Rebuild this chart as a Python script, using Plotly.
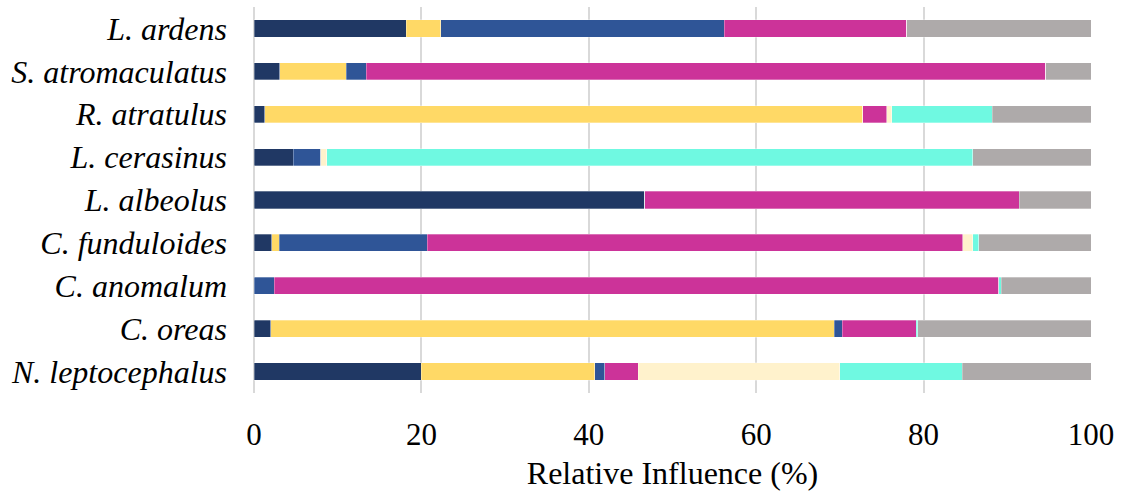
import plotly.graph_objects as go

species = ["L. ardens", "S. atromaculatus", "R. atratulus", "L. cerasinus", "L. albeolus",
           "C. funduloides", "C. anomalum", "C. oreas", "N. leptocephalus"]

navy    = [18.2, 3.1,  1.3,  4.7,  46.7, 2.1,  0.0,  2.0,  20.0]
yellow  = [4.1,  7.9,  71.4, 0.0,  0.0,  0.9,  0.0,  67.3, 20.7]
blue    = [33.9, 2.4,  0.0,  3.3,  0.0,  17.7, 2.4,  1.0,  1.2]
magenta = [21.8, 81.2, 2.9,  0.0,  44.7, 64.0, 86.6, 8.8,  4.0]
cream   = [0.0,  0.0,  0.6,  0.7,  0.0,  1.2,  0.0,  0.0,  24.1]
aqua    = [0.0,  0.0,  12.0, 77.2, 0.0,  0.7,  0.3,  0.2,  14.6]
gray    = [22.0, 5.4,  11.8, 14.1, 8.6,  13.4, 10.7, 20.7, 15.4]

x_ticks = [0, 20, 40, 60, 80, 100]

series = [
    ("Series 1", navy, "#203864"),
    ("Series 2", yellow, "#ffd966"),
    ("Series 3", blue, "#2f5597"),
    ("Series 4", magenta, "#cc3399"),
    ("Series 5", cream, "#fff2cc"),
    ("Series 6", aqua, "#6ff9e1"),
    ("Series 7", gray, "#aeaaaa"),
]

fig = go.Figure()
for name, vals, col in series:
    fig.add_trace(go.Bar(
        y=species, x=vals, name=name, orientation="h",
        marker=dict(color=col, line=dict(color="rgba(255,255,255,0.5)", width=0.6)),
        showlegend=False,
    ))

font_family = "Liberation Serif"

fig.update_layout(
    barmode="stack",
    bargap=0.6,
    width=1122, height=496,
    margin=dict(l=254, r=31, t=7, b=103, autoexpand=False),
    paper_bgcolor="white", plot_bgcolor="white",
    font=dict(family=font_family, color="black"),
    xaxis=dict(
        range=[0, 100], tickvals=x_ticks, ticktext=[str(t) for t in x_ticks],
        showgrid=True, gridcolor="#d9d9d9", gridwidth=2,
        zeroline=True, zerolinecolor="#d9d9d9", zerolinewidth=2,
        showline=False, ticks="", ticklabelstandoff=20,
        tickfont=dict(size=31, family=font_family),
        title=dict(text="Relative Influence (%)", font=dict(size=32, family=font_family), standoff=10),
    ),
    yaxis=dict(
        categoryorder="array", categoryarray=species, autorange="reversed",
        showgrid=False, showline=False, ticks="", ticklabelstandoff=26,
        tickfont=dict(size=32, family=font_family, style="italic"),
    ),
)

fig.write_html("out.html", config={"displayModeBar": False},
               post_script="document.body.style.margin='0';")
